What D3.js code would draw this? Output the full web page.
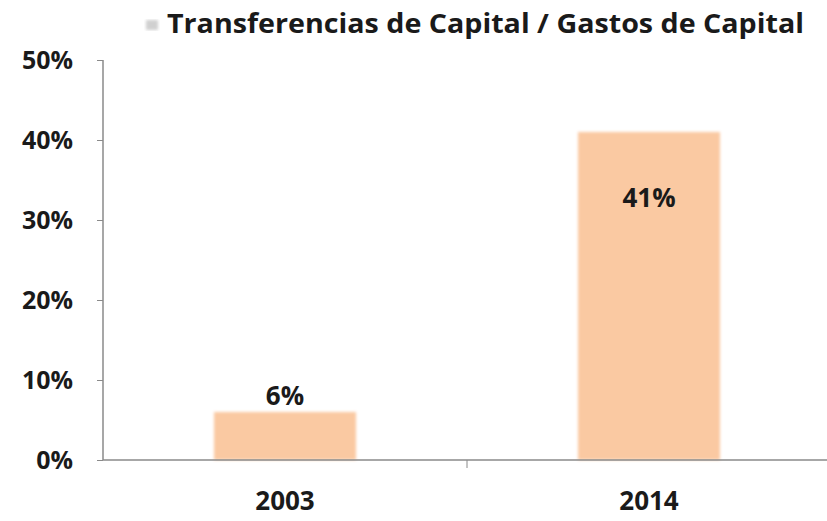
<!DOCTYPE html>
<html><head><meta charset="utf-8">
<script src="https://cdn.jsdelivr.net/npm/d3@7/dist/d3.min.js"></script>
<style>body{margin:0;background:#fff}svg{display:block}text{font-family:"Open Sans","Lato",sans-serif;font-weight:bold;fill:#1a1a1a}</style>
</head><body><svg id="c" width="827" height="521"></svg>
<script>
const categories = ["2003", "2014"];
const values = [0.06, 0.41];
const yTicks = [0, 0.1, 0.2, 0.3, 0.4, 0.5];
const title = "Transferencias de Capital / Gastos de Capital";

const svg = d3.select("#c");
const x = d3.scaleBand().domain(categories).range([103, 831]).paddingInner(0.61).paddingOuter(0.305);
const y = d3.scaleLinear().domain([0, 0.5]).range([460, 60]);
const fmt = d3.format(".0%");

const defs = svg.append("defs");
const f = defs.append("filter").attr("id","blur").attr("x","-10%").attr("y","-10%").attr("width","120%").attr("height","120%");
f.append("feGaussianBlur").attr("stdDeviation", 1.5);

// title + legend marker
svg.append("rect").attr("x", 146).attr("y", 20).attr("width", 12).attr("height", 10).attr("fill", "#d0d0d0").attr("filter","url(#blur)");
svg.append("text").attr("x", 167).attr("y", 33).attr("font-size", 26)
  .attr("textLength", 637).attr("lengthAdjust", "spacingAndGlyphs").text(title);

// bars
svg.selectAll("rect.bar").data(values).join("rect").attr("class","bar")
  .attr("x", (d,i) => x(categories[i]))
  .attr("width", x.bandwidth())
  .attr("y", d => y(d))
  .attr("height", d => y(0) - y(d))
  .attr("fill", "#fac9a2")
  .attr("filter","url(#blur)");

// y axis
const ya = svg.append("g").attr("transform","translate(103,0)")
  .call(d3.axisLeft(y).tickValues(yTicks).tickFormat(fmt).tickSize(6).tickPadding(24));
ya.select(".domain").attr("stroke","#8a8a8a").attr("stroke-width",1.5).attr("d","M0,60V460");
ya.selectAll(".tick line").attr("stroke","#8a8a8a");
ya.selectAll(".tick text").attr("font-size", 25).attr("font-family",'"Open Sans","Lato",sans-serif').attr("font-weight","bold").attr("fill","#1a1a1a");

// x axis
const xa = svg.append("g").attr("transform","translate(0,460)")
  .call(d3.axisBottom(x).tickSize(0).tickPadding(32));
xa.select(".domain").attr("stroke","#8a8a8a").attr("stroke-width",1.5).attr("d","M103,0H831");
xa.selectAll(".tick text").attr("font-size", 26).attr("font-family",'"Open Sans","Lato",sans-serif').attr("font-weight","bold").attr("fill","#1a1a1a");
svg.append("line").attr("x1", 467).attr("x2", 467).attr("y1", 460).attr("y2", 468).attr("stroke","#8a8a8a");

// value labels
svg.selectAll("text.lbl").data(values).join("text").attr("class","lbl")
  .attr("x", (d,i) => x(categories[i]) + x.bandwidth()/2)
  .attr("y", (d,i) => i === 0 ? y(d) - 7 : y(d) + 75)
  .attr("text-anchor","middle").attr("font-size", 26)
  .text(d => fmt(d));
</script></body></html>
